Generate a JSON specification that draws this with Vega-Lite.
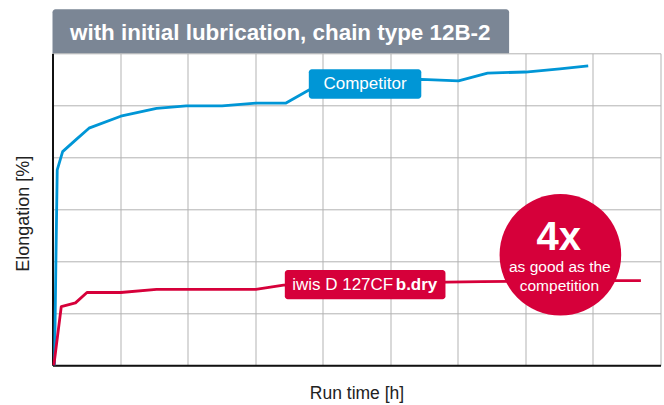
{
  "$schema": "https://vega.github.io/schema/vega-lite/v6.json",
  "width": 608,
  "height": 312,
  "autosize": {"type": "none"},
  "padding": {"left": 52.5, "top": 53.3, "right": 3.5, "bottom": 39.7},
  "background": "white",
  "config": {"view": {"stroke": null}, "font": "Liberation Sans"},
  "encoding": {
    "x": {
      "field": "x", "type": "quantitative",
      "scale": {"domain": [0, 9], "nice": false, "zero": false},
      "axis": {
        "title": "Run time [h]", "values": [0, 1, 2, 3, 4, 5, 6, 7, 8, 9],
        "grid": true, "gridColor": "#b3b3b3", "gridWidth": 1,
        "labels": false, "ticks": false,
        "domainColor": "#111111", "domainWidth": 2,
        "titleFont": "Liberation Sans", "titleFontSize": 17.5, "titleFontWeight": "normal",
        "titleColor": "#222222", "titleBaseline": "alphabetic", "titleY": 33
      }
    },
    "y": {
      "field": "y", "type": "quantitative",
      "scale": {"domain": [0, 6], "nice": false, "zero": false},
      "axis": {
        "title": "Elongation [%]", "values": [0, 1, 2, 3, 4, 5, 6],
        "grid": true, "gridColor": "#b3b3b3", "gridWidth": 1,
        "labels": false, "ticks": false,
        "domainColor": "#111111", "domainWidth": 2,
        "titleFont": "Liberation Sans", "titleFontSize": 18, "titleFontWeight": "normal",
        "titleColor": "#222222", "titleBaseline": "alphabetic", "titleAngle": -90,
        "titleX": -24, "titleY": 160, "titleAlign": "center"
      }
    }
  },
  "layer": [
    {
      "data": {"values": [
        {"s": "Competitor", "x": 0.03, "y": 0},
        {"s": "Competitor", "x": 0.05, "y": 1.97},
        {"s": "Competitor", "x": 0.07, "y": 3.76},
        {"s": "Competitor", "x": 0.15, "y": 4.11},
        {"s": "Competitor", "x": 0.34, "y": 4.33},
        {"s": "Competitor", "x": 0.54, "y": 4.56},
        {"s": "Competitor", "x": 1.01, "y": 4.79},
        {"s": "Competitor", "x": 1.54, "y": 4.94},
        {"s": "Competitor", "x": 1.98, "y": 4.99},
        {"s": "Competitor", "x": 2.51, "y": 4.99},
        {"s": "Competitor", "x": 3.01, "y": 5.04},
        {"s": "Competitor", "x": 3.45, "y": 5.04},
        {"s": "Competitor", "x": 3.79, "y": 5.29},
        {"s": "Competitor", "x": 4.03, "y": 5.45},
        {"s": "Competitor", "x": 4.99, "y": 5.49},
        {"s": "Competitor", "x": 5.46, "y": 5.50},
        {"s": "Competitor", "x": 6.01, "y": 5.47},
        {"s": "Competitor", "x": 6.44, "y": 5.62},
        {"s": "Competitor", "x": 7.0, "y": 5.64},
        {"s": "Competitor", "x": 7.51, "y": 5.70},
        {"s": "Competitor", "x": 7.93, "y": 5.76},
        {"s": "iwis", "x": 0.02, "y": 0},
        {"s": "iwis", "x": 0.13, "y": 1.13},
        {"s": "iwis", "x": 0.34, "y": 1.20},
        {"s": "iwis", "x": 0.51, "y": 1.40},
        {"s": "iwis", "x": 1.01, "y": 1.40},
        {"s": "iwis", "x": 1.54, "y": 1.46},
        {"s": "iwis", "x": 3.01, "y": 1.46},
        {"s": "iwis", "x": 3.42, "y": 1.54},
        {"s": "iwis", "x": 5.83, "y": 1.60},
        {"s": "iwis", "x": 6.36, "y": 1.61},
        {"s": "iwis", "x": 8.24, "y": 1.63},
        {"s": "iwis", "x": 8.71, "y": 1.63}
      ]},
      "mark": {"type": "line", "strokeWidth": 2.8, "strokeJoin": "round"},
      "encoding": {
        "color": {"field": "s", "type": "nominal", "legend": null,
          "scale": {"domain": ["Competitor", "iwis"], "range": ["#0096d6", "#d6003a"]}}
      }
    },
    {
      "data": {"values": [
        {"s": "Competitor", "x": 3.794, "x2": 5.459, "y": 5.127, "y2": 5.692},
        {"s": "iwis", "x": 3.439, "x2": 5.817, "y": 1.269, "y2": 1.833}
      ]},
      "mark": {"type": "rect", "cornerRadius": 3},
      "encoding": {
        "x2": {"field": "x2"},
        "y2": {"field": "y2"},
        "color": {"field": "s", "type": "nominal", "legend": null,
          "scale": {"domain": ["Competitor", "iwis"], "range": ["#0096d6", "#d6003a"]}}
      }
    },
    {
      "data": {"values": [{"x": 4.626, "y": 5.41, "t": "Competitor"}]},
      "mark": {"type": "text", "align": "center", "baseline": "middle", "fontSize": 17, "color": "white", "font": "Liberation Sans"},
      "encoding": {"text": {"field": "t"}}
    },
    {
      "data": {"values": [{"x": 5.044, "y": 1.55, "t": "iwis D 127CF"}]},
      "mark": {"type": "text", "align": "right", "baseline": "middle", "fontSize": 17, "color": "white", "font": "Liberation Sans"},
      "encoding": {"text": {"field": "t"}}
    },
    {
      "data": {"values": [{"x": 5.081, "y": 1.55, "t": "b.dry"}]},
      "mark": {"type": "text", "align": "left", "baseline": "middle", "fontSize": 17, "fontWeight": "bold", "color": "white", "font": "Liberation Sans"},
      "encoding": {"text": {"field": "t"}}
    },
    {
      "data": {"values": [{"x": 7.518, "y": 2.125}]},
      "mark": {"type": "circle", "size": 14787, "color": "#d6003a", "opacity": 1}
    },
    {
      "data": {"values": [{"x": 7.495, "y": 2.21, "t": "4x"}]},
      "mark": {"type": "text", "align": "center", "baseline": "alphabetic", "fontSize": 40, "fontWeight": "bold", "color": "white", "font": "Liberation Sans"},
      "encoding": {"text": {"field": "t"}}
    },
    {
      "data": {"values": [
        {"x": 7.51, "y": 1.79, "t": "as good as the"},
        {"x": 7.503, "y": 1.43, "t": "competition"}
      ]},
      "mark": {"type": "text", "align": "center", "baseline": "alphabetic", "fontSize": 15.5, "color": "white", "font": "Liberation Sans"},
      "encoding": {"text": {"field": "t"}}
    },
    {
      "data": {"values": [{"x": 0, "x2": 6.759, "y": 6, "y2": 6.846}]},
      "mark": {"type": "rect", "color": "#7b8695", "cornerRadiusTopLeft": 3, "cornerRadiusTopRight": 3},
      "encoding": {"x2": {"field": "x2"}, "y2": {"field": "y2"}}
    },
    {
      "data": {"values": [{"x": 0.259, "y": 6.256, "t": "with initial lubrication, chain type 12B-2"}]},
      "mark": {"type": "text", "align": "left", "baseline": "alphabetic", "fontSize": 22.4, "fontWeight": "bold", "color": "white", "font": "Liberation Sans"},
      "encoding": {"text": {"field": "t"}}
    }
  ]
}
